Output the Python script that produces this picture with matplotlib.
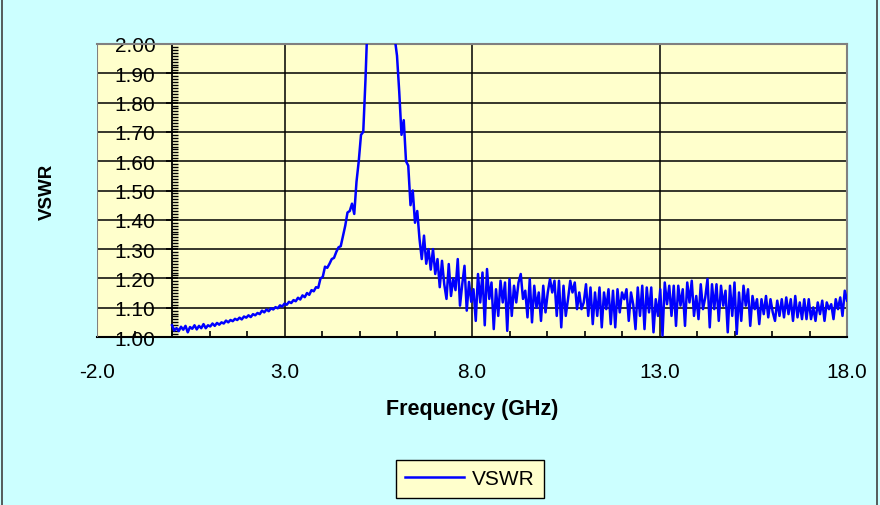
import numpy as np
import matplotlib
matplotlib.use('Agg')
import matplotlib.pyplot as plt
from matplotlib.ticker import MultipleLocator, FormatStrFormatter
from matplotlib.patches import Rectangle

plt.rcParams['font.family'] = ['Liberation Sans', 'DejaVu Sans']

# VSWR trace, split in sweep segments (GHz start, stop)
span_a = (0.00, 3.96)
vswr_a = [1.040, 1.022, 1.030, 1.020, 1.035, 1.025, 1.038, 1.016, 1.034, 1.028,
          1.040, 1.026, 1.038, 1.030, 1.044, 1.030, 1.040, 1.036, 1.046, 1.038,
          1.048, 1.042, 1.050, 1.046, 1.056, 1.050, 1.058, 1.054, 1.062, 1.058,
          1.066, 1.060, 1.070, 1.066, 1.074, 1.068, 1.078, 1.074, 1.082, 1.078,
          1.090, 1.084, 1.094, 1.088, 1.098, 1.094, 1.102, 1.098, 1.108, 1.104,
          1.114, 1.110, 1.120, 1.116, 1.126, 1.122, 1.134, 1.128, 1.142, 1.136,
          1.150, 1.144, 1.160, 1.156, 1.170, 1.168, 1.200]

span_b = (4.02, 7.98)
vswr_b = [1.205, 1.240, 1.236, 1.250, 1.266, 1.270, 1.290, 1.306, 1.310, 1.345,
          1.380, 1.425, 1.430, 1.455, 1.420, 1.530, 1.600, 1.690, 1.700, 1.880,
          2.100, 2.400, 2.700, 3.000, 3.200, 3.300, 3.300, 3.200, 3.000, 2.700,
          2.400, 2.150, 2.020, 1.960, 1.836, 1.690, 1.740, 1.600, 1.585, 1.450,
          1.500, 1.390, 1.430, 1.335, 1.266, 1.346, 1.250, 1.300, 1.230, 1.300,
          1.215, 1.266, 1.170, 1.260, 1.180, 1.130, 1.249, 1.140, 1.200, 1.160,
          1.266, 1.107, 1.180, 1.243, 1.090, 1.188, 1.120]

span_c1 = (8.04, 9.24)
vswr_c1 = [1.163, 1.055, 1.215, 1.118, 1.220, 1.040, 1.232, 1.130, 1.186, 1.027,
           1.163, 1.072, 1.192, 1.118, 1.186, 1.021, 1.198, 1.072, 1.175, 1.118,
           1.186]

span_c2 = (9.30, 11.76)
vswr_c2 = [1.215, 1.130, 1.158, 1.067, 1.198, 1.050, 1.175, 1.100, 1.152, 1.055,
           1.175, 1.084, 1.152, 1.198, 1.152, 1.192, 1.072, 1.192, 1.033, 1.175,
           1.072, 1.129, 1.192, 1.152, 1.186, 1.095, 1.152, 1.095, 1.118, 1.180,
           1.072, 1.169, 1.044, 1.152, 1.072, 1.169, 1.033, 1.152, 1.095, 1.163,
           1.044, 1.158]

span_c3 = (11.82, 14.28)
vswr_c3 = [1.033, 1.163, 1.084, 1.152, 1.129, 1.163, 1.055, 1.152, 1.110, 1.027,
           1.169, 1.072, 1.175, 1.027, 1.169, 1.084, 1.169, 1.016, 1.129, 1.072,
           1.163, 1.005, 1.186, 1.112, 1.175, 1.072, 1.175, 1.038, 1.175, 1.107,
           1.163, 1.038, 1.186, 1.118, 1.192, 1.072, 1.140, 1.061, 1.180, 1.095,
           1.135, 1.198]

span_c4 = (14.34, 16.80)
vswr_c4 = [1.033, 1.180, 1.095, 1.180, 1.055, 1.175, 1.107, 1.158, 1.016, 1.175,
           1.072, 1.186, 1.010, 1.152, 1.055, 1.175, 1.107, 1.163, 1.038, 1.140,
           1.095, 1.129, 1.044, 1.129, 1.078, 1.140, 1.067, 1.129, 1.084, 1.055,
           1.124, 1.072, 1.129, 1.067, 1.135, 1.078, 1.129, 1.055, 1.140, 1.067,
           1.118, 1.061]

span_c5 = (16.86, 18.00)
vswr_c5 = [1.129, 1.061, 1.129, 1.061, 1.101, 1.055, 1.118, 1.078, 1.124, 1.055,
           1.118, 1.095, 1.112, 1.061, 1.129, 1.095, 1.135, 1.072, 1.158, 1.124]

x_ticks = [-2, 3, 8, 13, 18]

segments = [(span_a, vswr_a), (span_b, vswr_b), (span_c1, vswr_c1),
            (span_c2, vswr_c2), (span_c3, vswr_c3), (span_c4, vswr_c4),
            (span_c5, vswr_c5)]
freq = np.concatenate([np.linspace(s[0], s[1], len(v)) for s, v in segments])
vswr = np.concatenate([np.array(v) for s, v in segments])

W, H = 880, 506
fig = plt.figure(figsize=(W / 100, H / 100), dpi=100, facecolor='#CCFFFF')
# outer chart border (top and bottom fall outside the picture)
fig.patches.append(Rectangle((2 / W, -0.05), 875 / W, 1.10, transform=fig.transFigure,
                             fill=False, edgecolor='#404040', lw=1.2))

ax = fig.add_axes([97 / W, 1 - 338 / H, 750 / W, 293 / H])
ax.set_facecolor('#FFFFCC')
ax.plot(freq, vswr, color='#0000FF', lw=1.8, label='VSWR', zorder=3)
ax.set_xlim(-2, 18)
ax.set_ylim(1, 2)

ax.yaxis.set_major_locator(MultipleLocator(0.1))
ax.yaxis.set_minor_locator(MultipleLocator(0.01))
ax.yaxis.set_major_formatter(FormatStrFormatter('%.2f'))
ax.set_xticks(x_ticks)
ax.set_xticks(np.arange(-2, 19, 1), minor=True)
ax.xaxis.set_major_formatter(FormatStrFormatter('%.1f'))
ax.grid(True, which='major', color='black', lw=1.1)

for s in ['top', 'right']:
    ax.spines[s].set_color('#808080')
    ax.spines[s].set_linewidth(1.5)
ax.spines['bottom'].set_color('black')
ax.spines['bottom'].set_linewidth(1.5)
ax.spines['left'].set_position(('data', 0))
ax.spines['left'].set_color('black')
ax.spines['left'].set_linewidth(1.3)
ax.axvline(-2, color='#808080', lw=1.5, zorder=2.6)

ax.tick_params(axis='y', which='major', direction='inout', length=8, width=1.2,
               pad=8, labelsize=15)
ax.tick_params(axis='y', which='minor', direction='in', length=4, width=1)
ax.tick_params(axis='x', which='major', length=0, pad=18, labelsize=15)
ax.tick_params(axis='x', which='minor', direction='in', length=4, width=1.2)

fig.text(472 / W, 1 - 410 / H, 'Frequency (GHz)', ha='center', va='center',
         fontsize=15.5, fontweight='bold')
fig.text(47 / W, 1 - 192 / H, 'VSWR', ha='center', va='center', rotation=90,
         fontsize=13.5, fontweight='bold')

leg = fig.legend(loc='center', bbox_to_anchor=(470 / W, 1 - 480 / H), fontsize=15,
                 frameon=True, fancybox=False, facecolor='#FFFFCC', edgecolor='black',
                 framealpha=1, handlelength=2.8, handletextpad=0.4, borderpad=0.45)
leg.get_frame().set_linewidth(1.0)

fig.savefig('out.png', dpi=100, facecolor=fig.get_facecolor())
